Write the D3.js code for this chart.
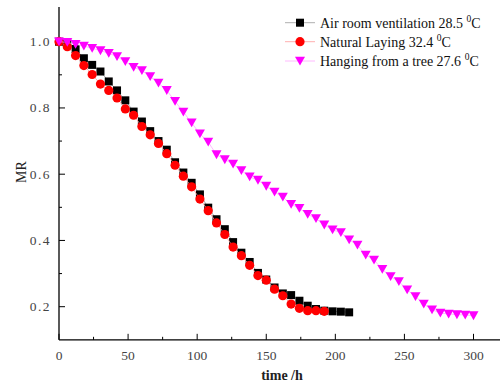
<!DOCTYPE html>
<html><head><meta charset="utf-8">
<script src="https://cdn.jsdelivr.net/npm/d3@7"></script>
<style>body{margin:0;background:#fff}svg{display:block}</style>
</head><body><svg id="c" width="500" height="385"></svg>
<script>
const timesAir = d3.range(0, 211, 6);
const airValues = [1.0,0.995,0.978,0.950,0.930,0.910,0.880,0.853,0.823,0.789,0.759,0.730,0.700,0.674,0.636,0.605,0.574,0.539,0.499,0.464,0.434,0.395,0.363,0.335,0.302,0.282,0.258,0.240,0.235,0.218,0.203,0.193,0.188,0.186,0.185,0.183];
const timesNat = d3.range(0, 193, 6);
const natValues = [1.0,0.985,0.958,0.928,0.901,0.872,0.853,0.830,0.797,0.778,0.744,0.719,0.693,0.662,0.627,0.594,0.562,0.525,0.490,0.453,0.418,0.380,0.354,0.325,0.294,0.280,0.253,0.233,0.208,0.195,0.188,0.188,0.186];
const timesTree = d3.range(0, 301, 6);
const treeValues = [1.0,0.998,0.992,0.987,0.980,0.973,0.965,0.955,0.940,0.923,0.913,0.895,0.875,0.853,0.820,0.788,0.755,0.722,0.697,0.659,0.644,0.631,0.611,0.592,0.582,0.564,0.546,0.531,0.509,0.497,0.479,0.466,0.447,0.432,0.424,0.402,0.386,0.356,0.341,0.313,0.291,0.276,0.251,0.231,0.208,0.191,0.181,0.178,0.176,0.175,0.173];
const seriesNames = ["Air room ventilation 28.5 ", "Natural Laying 32.4 ", "Hanging from a tree 27.6 "];
const xTicks = [0,50,100,150,200,250,300];
const yTicks = [0.2,0.4,0.6,0.8,1.0];

const svg = d3.select("#c");
const x = d3.scaleLinear().domain([0,300]).range([59,473.5]);
const y = d3.scaleLinear().domain([0.2,1.0]).range([306.7,41.7]);
const x0 = 59, yBase = y(0.1), yTop = y(1.1)-1.5;

const font = "Liberation Serif";
svg.append("line").attr("x1",x0).attr("x2",x0).attr("y1",yTop).attr("y2",yBase).attr("stroke","#000").attr("stroke-width",1.3);
svg.append("line").attr("x1",x0).attr("x2",500).attr("y1",yBase).attr("y2",yBase).attr("stroke","#000").attr("stroke-width",1.3);
const xMinor = d3.range(25,320,50);
xTicks.forEach(t=>svg.append("line").attr("x1",x(t)).attr("x2",x(t)).attr("y1",yBase).attr("y2",yBase-6).attr("stroke","#000"));
xMinor.forEach(t=>svg.append("line").attr("x1",x(t)).attr("x2",x(t)).attr("y1",yBase).attr("y2",yBase-3).attr("stroke","#000"));
svg.selectAll(".xl").data(xTicks).enter().append("text").attr("x",d=>x(d)).attr("y",360)
  .attr("text-anchor","middle").attr("font-family",font).attr("font-size",13.5).attr("fill","#444").text(d=>d);
const yMinor = [0.3,0.5,0.7,0.9];
yTicks.forEach(t=>svg.append("line").attr("x1",x0).attr("x2",x0+6).attr("y1",y(t)).attr("y2",y(t)).attr("stroke","#000"));
yMinor.forEach(t=>svg.append("line").attr("x1",x0).attr("x2",x0+3).attr("y1",y(t)).attr("y2",y(t)).attr("stroke","#000"));
svg.selectAll(".yl").data(yTicks).enter().append("text").attr("x",51).attr("y",d=>y(d)+4.5)
  .attr("text-anchor","end").attr("font-family",font).attr("font-size",13.5).attr("letter-spacing","1.5px").attr("fill","#444").text(d=>d.toFixed(1));
svg.append("text").attr("x",282).attr("y",380).attr("text-anchor","middle").attr("font-family",font)
  .attr("font-size",14).attr("font-weight","bold").attr("fill","#222").text("time /h");
svg.append("text").attr("transform","translate(26,172) rotate(-90)").attr("text-anchor","middle").attr("font-family",font)
  .attr("font-size",14).attr("fill","#222").text("MR");

const tri = (cx,cy)=>`M${cx-5},${cy-4.3} L${cx+5},${cy-4.3} L${cx},${cy+4.5} Z`;
const series = [
  {t:timesAir, v:airValues, color:"#000", line:"#999", shape:"square"},
  {t:timesNat, v:natValues, color:"#ff0000", line:"#ff9a9a", shape:"circle"},
  {t:timesTree, v:treeValues, color:"#ff00ff", line:"#ffa8ff", shape:"tri"}
];
function drawMarker(g, shape, cx, cy, color){
  if(shape==="square") g.append("rect").attr("x",cx-4).attr("y",cy-4).attr("width",8).attr("height",8).attr("fill",color);
  else if(shape==="circle") g.append("circle").attr("cx",cx).attr("cy",cy).attr("r",4.6).attr("fill",color);
  else g.append("path").attr("d",tri(cx,cy)).attr("fill",color);
}
const lineGen = d3.line().x(d=>x(d[0])).y(d=>y(d[1]));
series.forEach(s=>{
  const pts = s.t.map((t,i)=>[t,s.v[i]]);
  svg.append("path").attr("d",lineGen(pts)).attr("fill","none").attr("stroke",s.line).attr("stroke-width",0.8);
  const g = svg.append("g");
  pts.forEach(p=>drawMarker(g,s.shape,x(p[0]),y(p[1]),s.color));
});
const ly = [22.7,41.7,61];
series.forEach((s,i)=>{
  svg.append("line").attr("x1",285).attr("x2",315).attr("y1",ly[i]).attr("y2",ly[i]).attr("stroke",s.line).attr("stroke-width",0.8);
  drawMarker(svg,s.shape,300,ly[i],s.color);
  const tx = svg.append("text").attr("x",320).attr("y",ly[i]+4.8).attr("font-family",font).attr("font-size",14).attr("fill","#111");
  tx.append("tspan").text(seriesNames[i]);
  tx.append("tspan").attr("font-size",9.5).attr("dy",-5.5).text("0");
  tx.append("tspan").attr("dy",5.5).text("C");
});
</script></body></html>
